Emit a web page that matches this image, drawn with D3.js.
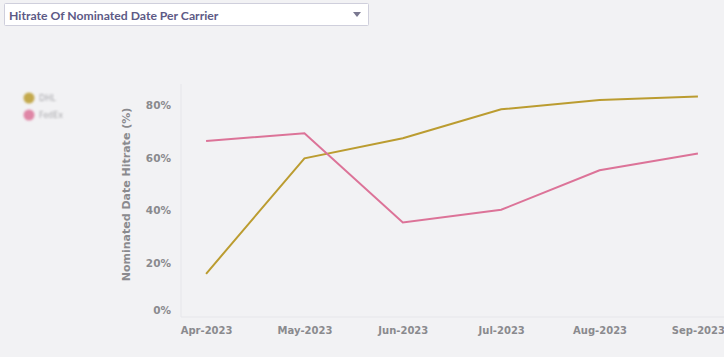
<!DOCTYPE html>
<html><head><meta charset="utf-8">
<script src="https://cdn.jsdelivr.net/npm/d3@7"></script>
<style>
html,body{margin:0;padding:0;background:#f2f2f4;}
svg{display:block;}
</style></head>
<body>
<svg id="c" width="724" height="357"></svg>
<script>
const months = ["Apr-2023","May-2023","Jun-2023","Jul-2023","Aug-2023","Sep-2023"];
const seriesNames = ["DHL","FedEx"];
const seriesA = [16.0, 59.8, 67.4, 78.4, 81.9, 83.3];
const seriesB = [66.4, 69.3, 35.5, 40.3, 55.3, 61.6];
const yTicks = [0, 20, 40, 60, 80];
const colors = ["#bb9c30", "#dc7398"];
const titleText = "Hitrate Of Nominated Date Per Carrier";
const yTitle = "Nominated Date Hitrate (%)";

const svg = d3.select("#c");
const pL = 181, pR = 723, pT = 84, pB = 317;

// dropdown
svg.append("rect").attr("x",4.5).attr("y",3.5).attr("width",364).attr("height",22)
  .attr("fill","#fff").attr("stroke","#cfcfdc").attr("rx",1);
svg.append("text").attr("x",9).attr("y",19.5).text(titleText)
  .attr("font-family","Lato, 'Open Sans', sans-serif").attr("font-weight",700)
  .attr("font-size",12.2).attr("fill","#5d5a86");
svg.append("path").attr("d","M353,12 L361,12 L357,17 Z").attr("fill","#7a7890");

const x = d3.scalePoint().domain(months).range([pL, pR]).padding(0.255);
const y = d3.scaleLinear().domain([0, 88]).range([pB - 1, pT]);

// plot frame lines
svg.append("line").attr("x1",pL).attr("x2",pL).attr("y1",pT).attr("y2",pB)
  .attr("stroke","#e6e6ea");
svg.append("line").attr("x1",pL).attr("x2",724).attr("y1",pB).attr("y2",pB)
  .attr("stroke","#e6e6ea");

const fontT = "'DejaVu Sans', sans-serif";
// y axis
const ya = svg.append("g").attr("transform",`translate(${pL},0)`)
  .call(d3.axisLeft(y).tickValues(yTicks).tickFormat(d=>d+"%").tickSize(0).tickPadding(10));
ya.select(".domain").remove();
ya.selectAll("text").attr("font-family",fontT).attr("font-weight",700).attr("font-size",10.5)
  .attr("fill","#8a8a8e");
ya.selectAll(".tick").filter(d=>d===0).select("text").attr("dy","-0.25em");

// x axis
const xa = svg.append("g").attr("transform",`translate(0,${pB})`)
  .call(d3.axisBottom(x).tickSize(0).tickPadding(10));
xa.select(".domain").remove();
xa.selectAll("text").attr("font-family",fontT).attr("font-weight",700).attr("font-size",10)
  .attr("fill","#8a8a8e");

// y title
svg.append("text").attr("transform",`translate(130,${(pT+pB)/2 - 6}) rotate(-90)`)
  .attr("text-anchor","middle").text(yTitle)
  .attr("font-family",fontT).attr("font-weight",700).attr("font-size",11).attr("fill","#8a8a8e");

// lines
const line = d3.line().x((d,i)=>x(months[i])).y(d=>y(d));
[seriesA, seriesB].forEach((s,i)=>{
  svg.append("path").datum(s).attr("d",line).attr("fill","none")
    .attr("stroke",colors[i]).attr("stroke-width",2);
});

// legend (blurred like reference)
const defs = svg.append("defs");
defs.append("filter").attr("id","bl").append("feGaussianBlur").attr("stdDeviation",1.3);
const lg = svg.append("g").attr("filter","url(#bl)");
seriesNames.forEach((n,i)=>{
  lg.append("circle").attr("cx",29).attr("cy",98+i*17).attr("r",5.5).attr("fill",colors[i]).attr("opacity",0.85);
  lg.append("text").attr("x",39).attr("y",101+i*17).text(n)
    .attr("font-family",fontT).attr("font-size",8).attr("fill","#a8a8ac");
});
</script>
</body></html>
